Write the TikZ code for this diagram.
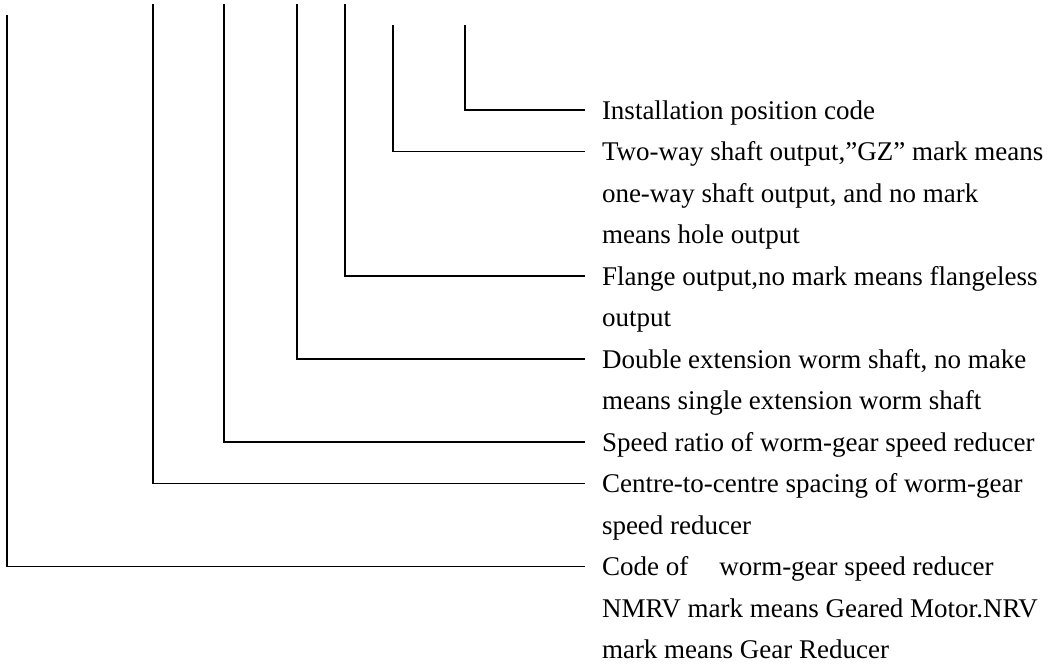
\documentclass[tikz,border=0pt]{standalone}
\usepackage{fontspec}
\setmainfont{Liberation Serif}
\begin{document}
\begin{tikzpicture}[x=1pt,y=-1pt,
  conn/.style={draw=black,line width=1.7pt},
  lab/.style={anchor=base west,inner sep=0pt,outer sep=0pt}]
\useasboundingbox (0,0) rectangle (1063,667);
\newcommand{\labtext}[1]{\parbox[t]{455pt}{\raggedright\fontsize{27}{41.5}\selectfont #1}}
% labels
\node[lab] (L1) at (602,119) {\labtext{Installation position code}};
\node[lab] (L2) at (602,160.5) {\labtext{Two-way shaft output,”GZ” mark means\\one-way shaft output, and no mark\\means hole output}};
\node[lab] (L3) at (602,285) {\labtext{Flange output,no mark means flangeless\\output}};
\node[lab] (L4) at (602,368) {\labtext{Double extension worm shaft, no make\\means single extension worm shaft}};
\node[lab] (L5) at (602,451) {\labtext{Speed ratio of worm-gear speed reducer}};
\node[lab] (L6) at (602,492.5) {\labtext{Centre-to-centre spacing of worm-gear\\speed reducer}};
\node[lab] (L7) at (602,575.5) {\labtext{Code of\hspace{0.9em} worm-gear speed reducer\\NMRV mark means Geared Motor.NRV\\mark means Gear Reducer}};
% tops of the leaders
\coordinate (T1) at (465,25);
\coordinate (T2) at (393,25);
\coordinate (T3) at (345,4);
\coordinate (T4) at (297,4);
\coordinate (T5) at (224,4);
\coordinate (T6) at (153,4);
\coordinate (T7) at (7,15);
% connectors
\foreach \i in {1,...,7}{
  \draw[conn] (T\i) |- ([shift={(-17pt,9pt)}]L\i.base west);
}
\end{tikzpicture}
\end{document}
